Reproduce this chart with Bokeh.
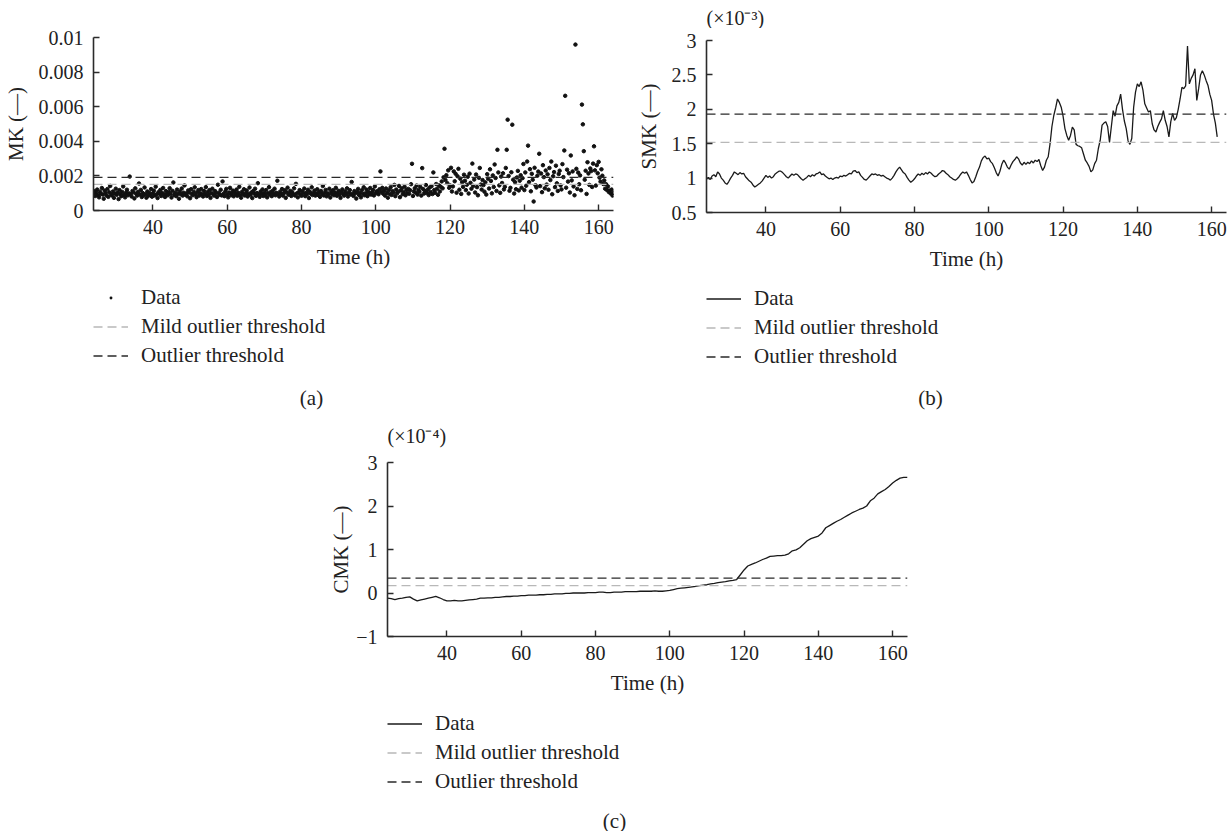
import numpy as np
from bokeh.plotting import figure
from bokeh.models import Range1d, FixedTicker, CustomJSTickFormatter, Label
from bokeh.layouts import column, row
from bokeh.embed import file_html
from bokeh.resources import INLINE

# ---------------- data ----------------
T_START = 24.0
T_END = 164.0

# MK (panel a): values in units of 1e-5, sampled every 0.25 h from 24 h
mk_step = 0.25
mk_e5 = [
    95, 112, 84, 103, 121, 88, 76, 109, 97, 130, 92, 68, 115, 101, 86, 124, 79, 105, 142, 93,
    87, 110, 73, 98, 126, 91, 104, 66, 118, 95, 83, 107, 139, 90, 76, 102, 120, 88, 99, 196,
    94, 81, 113, 105, 70, 128, 97, 86, 108, 156, 92, 119, 78, 101, 89, 133, 96, 74, 110, 85,
    103, 91, 124, 80, 99, 115, 87, 138, 94, 72, 106, 97, 119, 84, 101, 130, 93, 78, 112, 95,
    88, 107, 129, 96, 75, 114, 162, 90, 102, 83, 121, 97, 68, 110, 94, 127, 86, 103, 145, 91,
    99, 82, 116, 104, 71, 123, 95, 88, 109, 134, 92, 77, 105, 118, 86, 100, 124, 93, 81, 112,
    96, 135, 84, 107, 90, 118, 73, 101, 126, 94, 86, 112, 99, 78, 149, 103, 91, 120, 87, 168,
    97, 83, 110, 125, 92, 76, 104, 131, 88, 99, 115, 82, 107, 94, 121, 85, 102, 137, 90, 74,
    108, 95, 123, 87, 100, 116, 81, 97, 133, 89, 104, 72, 112, 98, 126, 85, 101, 158, 93, 79,
    110, 96, 122, 84, 103, 90, 118, 76, 99, 135, 92, 107, 83, 114, 97, 126, 88, 102, 172, 94,
    81, 109, 97, 124, 86, 100, 117, 73, 105, 132, 91, 98, 113, 84, 106, 95, 128, 87, 154, 99,
    76, 104, 118, 92, 85, 111, 99, 127, 83, 102, 94, 120, 72, 108, 97, 134, 89, 101, 115, 86,
    98, 123, 90, 106, 79, 113, 95, 141, 87, 103, 119, 82, 100, 92, 126, 75, 109, 96, 117, 88,
    104, 131, 85, 99, 114, 91, 73, 107, 122, 95, 86, 110, 98, 128, 81, 103, 118, 92, 165, 97,
    84, 112, 99, 69, 106, 125, 90, 103, 76, 117, 95, 134, 88, 100, 121, 83, 108, 96, 130, 92,
    105, 118, 87, 139, 99, 111, 108, 94, 123, 226, 108, 131, 97, 115, 86, 127, 102, 74, 119, 96,
    135, 90, 112, 104, 148, 83, 121, 99, 109, 142, 77, 116, 128, 94, 106, 138, 88, 120, 101, 125,
    97, 117, 152, 270, 84, 110, 129, 103, 144, 92, 119, 108, 136, 86, 245, 124, 98, 112, 147, 101,
    121, 89, 133, 107, 140, 95, 220, 118, 102, 153, 126, 91, 145, 110, 137, 168, 128, 192, 357, 176,
    204, 158, 232, 131, 145, 247, 110, 139, 226, 169, 212, 103, 198, 241, 120, 184, 96, 163, 137, 207,
    172, 118, 149, 195, 98, 213, 160, 126, 271, 142, 179, 104, 208, 135, 88, 189, 246, 150, 121, 176,
    147, 109, 163, 92, 210, 184, 127, 238, 171, 99, 203, 136, 266, 188, 113, 351, 220, 145, 102, 196,
    159, 215, 122, 137, 246, 351, 525, 199, 114, 131, 221, 496, 178, 98, 164, 123, 191, 229, 116, 172,
    204, 132, 187, 269, 118, 220, 143, 283, 375, 164, 239, 111, 212, 178, 52, 247, 146, 133, 201, 225,
    328, 141, 214, 106, 262, 193, 128, 231, 150, 209, 120, 246, 176, 283, 94, 198, 222, 135, 259, 157,
    113, 211, 230, 145, 122, 268, 193, 347, 663, 132, 236, 167, 215, 104, 318, 174, 226, 139, 88, 959,
    241, 125, 219, 152, 203, 117, 612, 498, 343, 178, 230, 96, 279, 214, 148, 243, 228, 136, 271, 371,
    232, 144, 262, 215, 281, 190, 167, 238, 201, 153, 174, 126, 152, 118, 139, 107, 115, 98, 121, 86,
    103,
]
mk_mild = 0.00151
mk_outlier = 0.00191

# SMK (panel b): values in units of 1e-3, every 0.5 h from 24 h
smk_step = 0.5
smk_e3 = [
    0.99, 1.01, 0.98, 1.03, 1.05, 1.02, 1.09, 1.06, 1.00, 0.97,
    0.93, 0.91, 0.95, 1.00, 1.04, 1.09, 1.07, 1.05, 1.08, 1.06,
    1.07, 1.02, 0.99, 0.96, 0.94, 0.90, 0.87, 0.89, 0.91, 0.93,
    0.96, 1.00, 1.04, 1.01, 1.03, 1.00, 1.02, 1.06, 1.08, 1.10,
    1.10, 1.08, 1.05, 1.02, 1.00, 1.03, 1.06, 1.04, 1.06, 1.05,
    1.02, 0.99, 0.97, 0.99, 1.01, 1.04, 1.02, 1.05, 1.03, 1.06,
    1.07, 1.09, 1.05, 1.06, 1.03, 1.01, 0.99, 1.00, 0.98, 1.00,
    1.01, 1.00, 1.03, 1.02, 1.04, 1.03, 1.05, 1.07, 1.06, 1.10,
    1.11, 1.08, 1.09, 1.04, 1.01, 0.98, 0.97, 1.00, 1.03, 1.06,
    1.05, 1.06, 1.04, 1.05, 1.03, 1.04, 1.02, 1.00, 0.99, 0.97,
    1.00, 1.04, 1.09, 1.13, 1.16, 1.12, 1.08, 1.06, 1.01, 0.97,
    0.94, 0.96, 0.99, 1.03, 1.06, 1.04, 1.07, 1.05, 1.08, 1.06,
    1.09, 1.07, 1.04, 1.02, 1.03, 1.06, 1.08, 1.11, 1.10, 1.07,
    1.05, 1.02, 1.00, 0.98, 0.97, 0.99, 1.02, 1.06, 1.09, 1.07,
    1.09, 1.04, 0.98, 0.93, 0.95, 1.02, 1.10, 1.16, 1.25, 1.30,
    1.32, 1.28, 1.29, 1.24, 1.21, 1.15, 1.08, 1.03, 1.10, 1.20,
    1.26, 1.22, 1.16, 1.13, 1.19, 1.24, 1.27, 1.31, 1.28, 1.22,
    1.19, 1.23, 1.20, 1.23, 1.21, 1.25, 1.22, 1.26, 1.24, 1.27,
    1.18, 1.11, 1.16, 1.26, 1.31, 1.50, 1.75, 1.91, 2.02, 2.15,
    2.10, 2.03, 1.90, 1.72, 1.62, 1.55, 1.62, 1.74, 1.70, 1.49,
    1.47, 1.46, 1.44, 1.35, 1.26, 1.22, 1.17, 1.09, 1.12, 1.21,
    1.26, 1.43, 1.55, 1.77, 1.80, 1.82, 1.75, 1.52, 1.75, 1.98,
    1.90, 2.05, 2.10, 2.22, 2.00, 1.83, 1.72, 1.54, 1.49, 1.58,
    2.03, 2.25, 2.37, 2.33, 2.40, 2.28, 2.08, 2.02, 1.96, 1.98,
    1.79, 1.70, 1.67, 1.75, 1.81, 1.86, 1.98, 1.84, 1.75, 1.60,
    1.82, 1.94, 1.84, 1.88, 2.00, 2.15, 2.32, 2.30, 2.34, 2.92,
    2.37, 2.45, 2.50, 2.59, 2.13, 2.30, 2.50, 2.56, 2.50, 2.42,
    2.35, 2.22, 2.13, 1.93, 1.80, 1.60,
]
smk_mild = 1.52
smk_outlier = 1.93

# CMK (panel c): values in units of 1e-4, every 1 h from 24 h
cmk_step = 1.0
cmk_e4 = [
    -0.12, -0.13, -0.15, -0.13, -0.12, -0.10, -0.09, -0.14, -0.18, -0.16,
    -0.14, -0.12, -0.10, -0.08, -0.11, -0.15, -0.18, -0.18, -0.17, -0.18,
    -0.18, -0.17, -0.16, -0.15, -0.14, -0.12, -0.12, -0.11, -0.11, -0.10,
    -0.10, -0.09, -0.08, -0.08, -0.07, -0.07, -0.06, -0.06, -0.05, -0.05,
    -0.05, -0.04, -0.04, -0.03, -0.03, -0.02, -0.02, -0.02, -0.01, -0.01,
    0.00, 0.00, 0.00, 0.00, 0.01, 0.01, 0.01, 0.02, 0.02, 0.01,
    0.01, 0.02, 0.02, 0.02, 0.03, 0.03, 0.03, 0.03, 0.04, 0.04,
    0.04, 0.04, 0.05, 0.04, 0.04, 0.05, 0.06, 0.08, 0.10, 0.11,
    0.12, 0.13, 0.14, 0.15, 0.17, 0.18, 0.19, 0.21, 0.22, 0.24,
    0.25, 0.26, 0.28, 0.29, 0.31, 0.42, 0.53, 0.62, 0.66, 0.69,
    0.73, 0.77, 0.80, 0.84, 0.85, 0.86, 0.86, 0.87, 0.90, 0.97,
    0.99, 1.04, 1.12, 1.20, 1.25, 1.28, 1.31, 1.38, 1.50, 1.55,
    1.60, 1.65, 1.69, 1.74, 1.79, 1.84, 1.88, 1.92, 1.95, 2.00,
    2.12, 2.18, 2.28, 2.33, 2.38, 2.45, 2.53, 2.59, 2.64, 2.66,
    2.66,
]
cmk_mild = 0.17
cmk_outlier = 0.34

x_ticks = [40, 60, 80, 100, 120, 140, 160]
mk_ticks = [0, 0.002, 0.004, 0.006, 0.008, 0.01]
smk_ticks = [0.5, 1, 1.5, 2, 2.5, 3]
cmk_ticks = [-1, 0, 1, 2, 3]

legend_labels = ["Data", "Mild outlier threshold", "Outlier threshold"]
x_label = "Time (h)"

# ---------------- style ----------------
FONT = "Liberation Serif"
INK = "#222222"
AXIS = "#2b2b2b"
LIGHT = "#b8b8b8"
DARK = "#2a2a2a"
DATA_C = "#1a1a1a"
DASH = "9 5"
FRAME_W = 520


def times(n, step):
    return T_START + step * np.arange(n)


def make_fig(ylo, yhi, yticks, ylabel, fmt_code, mb_left, mb_right, mb_top, mb_bottom, fh,
             ylab_standoff=8):
    p = figure(
        frame_width=FRAME_W, frame_height=fh,
        min_border_left=mb_left, min_border_right=mb_right,
        min_border_top=mb_top, min_border_bottom=mb_bottom,
        x_range=Range1d(T_START, T_END), y_range=Range1d(ylo, yhi),
        output_backend="svg", toolbar_location=None,
        background_fill_color="white", border_fill_color="white",
    )
    p.outline_line_color = None
    p.grid.visible = False
    p.xaxis.ticker = FixedTicker(ticks=x_ticks)
    p.yaxis.ticker = FixedTicker(ticks=yticks)
    p.yaxis.formatter = CustomJSTickFormatter(code=fmt_code)
    p.xaxis.axis_label = x_label
    p.yaxis.axis_label = ylabel
    for ax in (p.xaxis[0], p.yaxis[0]):
        ax.axis_line_color = AXIS
        ax.axis_line_width = 1.6
        ax.major_tick_line_color = AXIS
        ax.major_tick_line_width = 1.4
        ax.major_tick_in = 6
        ax.major_tick_out = 0
        ax.minor_tick_line_color = None
        ax.major_label_text_font = FONT
        ax.major_label_text_font_size = "20px"
        ax.major_label_text_color = INK
        ax.axis_label_text_font = FONT
        ax.axis_label_text_font_size = "21px"
        ax.axis_label_text_font_style = "normal"
        ax.axis_label_text_color = INK
    p.xaxis.major_label_standoff = 9
    p.xaxis.axis_label_standoff = 8
    p.yaxis.major_label_standoff = 10
    p.yaxis.axis_label_standoff = ylab_standoff
    return p


def blank_fig(height, mb_left, mb_right):
    # same horizontal structure as the panel above it; data units are pixels
    # measured from the frame's left edge (x) and top edge (y, downward)
    f = figure(
        frame_width=FRAME_W, frame_height=height,
        min_border_left=mb_left, min_border_right=mb_right,
        min_border_top=0, min_border_bottom=0,
        x_range=Range1d(0, FRAME_W), y_range=Range1d(height, 0),
        x_axis_type=None, y_axis_type=None,
        output_backend="svg", toolbar_location=None,
        background_fill_color="white", border_fill_color="white",
    )
    f.outline_line_color = None
    f.grid.visible = False
    return f


def add_text(f, x, y, text, align="center", size="21px"):
    f.add_layout(Label(x=x, y=y, text=text, text_align=align, text_baseline="middle",
                       text_font=FONT, text_font_size=size, text_color=INK))


def legend_fig(height, mb_left, mb_right, data_kind, leg_y, cap_x, cap_y, cap_text):
    f = blank_fig(height, mb_left, mb_right)
    nan = [np.nan]
    if data_kind == "scatter":
        f.scatter(x=nan, y=nan, marker="dot", size=13, color="#111111",
                  legend_label=legend_labels[0])
    else:
        f.line(x=nan, y=nan, line_color=DATA_C, line_width=1.3, legend_label=legend_labels[0])
    f.line(x=nan, y=nan, line_color=LIGHT, line_width=1.3, line_dash=DASH,
           legend_label=legend_labels[1])
    f.line(x=nan, y=nan, line_color=DARK, line_width=1.3, line_dash=DASH,
           legend_label=legend_labels[2])
    leg = f.legend[0]
    leg.location = (0, leg_y)
    leg.padding = 0
    leg.margin = 0
    leg.spacing = 0
    leg.border_line_color = None
    leg.background_fill_alpha = 0
    leg.glyph_width = 35
    leg.glyph_height = 29
    leg.label_height = 29
    leg.label_standoff = 13
    leg.label_text_font = FONT
    leg.label_text_font_size = "21px"
    leg.label_text_color = INK
    add_text(f, cap_x, cap_y, cap_text)
    return f


def add_thresholds(p, mild, outlier):
    p.line([T_START, T_END], [mild, mild], line_color=LIGHT, line_width=1.3, line_dash=DASH)
    p.line([T_START, T_END], [outlier, outlier], line_color=DARK, line_width=1.3, line_dash=DASH)


# ---------------- panel (a) ----------------
pa = make_fig(0, 0.01, mk_ticks, "MK (\u2014)",
              "return tick == 0 ? '0' : String(+tick.toFixed(4));",
              85, 18, 37, 70, 173)
mk_vals = np.array(mk_e5) * 1e-5
pa.scatter(times(len(mk_vals), mk_step), mk_vals, size=3.5, color="#111111")
add_thresholds(pa, mk_mild, mk_outlier)
pa_leg = legend_fig(130, 85, 18, "scatter", 40, 218, 117, "(a)")
col_a = column(pa, pa_leg, spacing=0)

# ---------------- panel (b) ----------------
pb_top = blank_fig(28, 75, 3)
add_text(pb_top, 0, 17, "(\u00d710\u207b\u00b3)", align="left", size="20px")
pb = make_fig(0.5, 3, smk_ticks, "SMK (\u2014)",
              "return String(+tick.toFixed(2));",
              75, 3, 12, 68, 172)
pb.line(times(len(smk_e3), smk_step), smk_e3, line_color=DATA_C, line_width=1.3)
add_thresholds(pb, smk_mild, smk_outlier)
pb_leg = legend_fig(130, 75, 3, "line", 39, 224, 117, "(b)")
col_b = column(pb_top, pb, pb_leg, spacing=0)

# ---------------- panel (c) ----------------
pc_top = blank_fig(40, 387, 12)
add_text(pc_top, 0, 25, "(\u00d710\u207b\u2074)", align="left", size="20px")
pc = make_fig(-1, 3, cmk_ticks, "CMK (\u2014)",
              "return tick < 0 ? '\u2212' + String(Math.abs(tick)) : String(tick);",
              387, 12, 12, 70, 174, ylab_standoff=0)
pc.line(times(len(cmk_e4), cmk_step), cmk_e4, line_color=DATA_C, line_width=1.3)
add_thresholds(pc, cmk_mild, cmk_outlier)
pc_leg = legend_fig(125, 387, 12, "line", 35, 227, 114, "(c)")
col_c = column(pc_top, pc, pc_leg, spacing=0)

layout = column(row(col_a, col_b, spacing=0), col_c, spacing=0)

open("out.html", "w").write(file_html(layout, INLINE))
